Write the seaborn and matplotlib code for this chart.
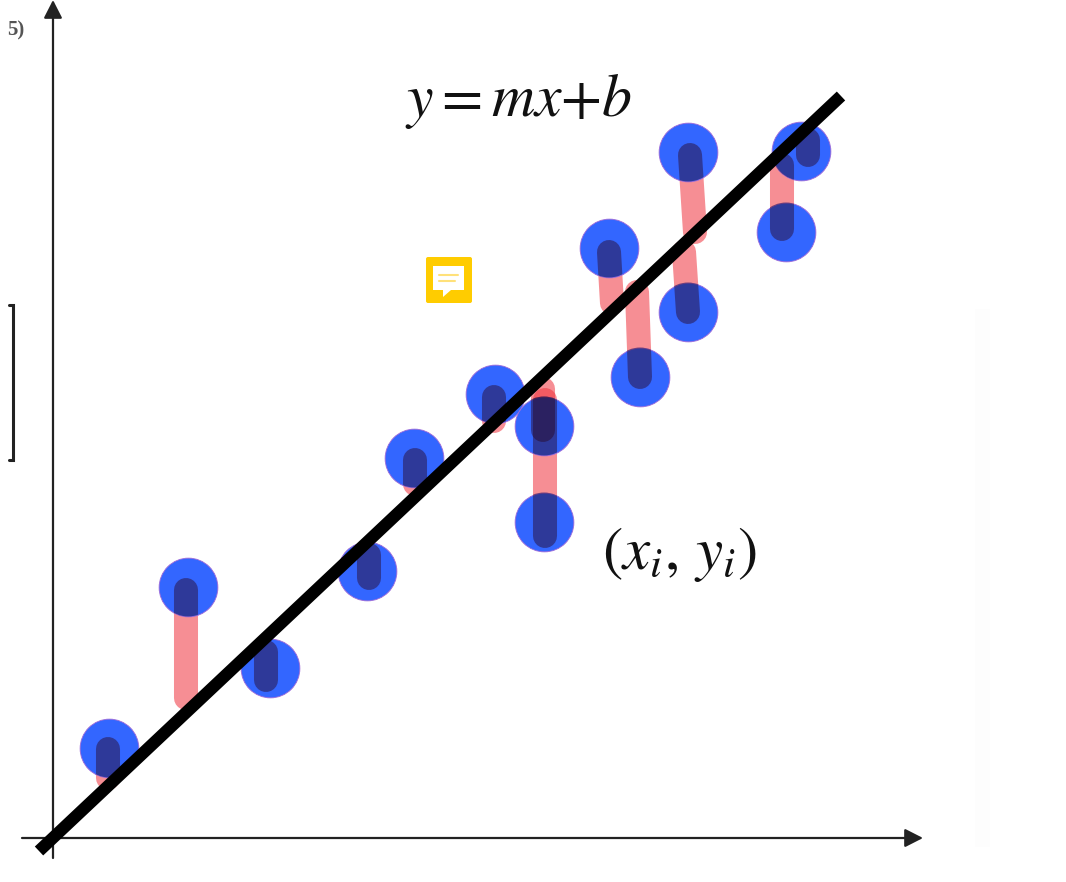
# plot.py -- least squares sketch: points, residuals and fitted line
import matplotlib
matplotlib.use( "Agg" )
import matplotlib.pyplot as plt
import matplotlib.patches as patches
import seaborn as sns

# Values (origin of the arrows = 0,0)
POINT_X = [ 56, 135, 217, 314, 361, 442, 491, 491, 556, 587, 635, 635, 733, 748 ]
POINT_Y = [ 90, 251, 170, 267, 380, 444, 412, 316, 590, 461, 686, 526, 606, 687 ]

# residuals: (x from, y from, x to, y to)
RESIDUALS = [ ( 55, 89, 55, 60 ),
              ( 133, 248, 133, 140 ),
              ( 213, 186, 213, 158 ),
              ( 316, 283, 316, 260 ),
              ( 362, 378, 362, 354 ),
              ( 441, 441, 441, 417 ),
              ( 490, 449, 490, 408 ),
              ( 492, 438, 492, 302 ),
              ( 556, 586, 559, 535 ),
              ( 587, 461, 584, 546 ),
              ( 637, 683, 642, 606 ),
              ( 635, 526, 631, 586 ),
              ( 729, 609, 729, 673 ),
              ( 755, 683, 755, 698 ) ]

LINE_X = [ -14, 788 ]
LINE_Y = [ -13, 742 ]

LINE_LABEL = r"$y{=}mx{+}b$"
POINT_LABEL = r"$(x_i,\, y_i)$"
CROPPED_LABEL = "5)"

BLUE, PINK, NAVY = "#3366ff", "#f0323c", "#28041e"

sns.set_style( "white" )
plt.rcParams[ "mathtext.fontset" ] = "stix"
plt.rcParams[ "font.family" ] = [ "Liberation Serif", "DejaVu Sans" ]

fig = plt.figure( figsize=( 10.66, 8.82 ), dpi=100 )
ax = fig.add_axes( [ 0, 0, 1, 1 ] )
ax.set_xlim( -53, 1013 )
ax.set_ylim( -44, 838 )
ax.axis( "off" )

# faint band left over at the right of the screenshot
ax.axvspan( 922, 937, ymin=0.04, ymax=0.65, color="#fdfdfd", lw=0, zorder=0 )

# arrows of the axes
for start, end in [ ( ( -31, 0 ), ( 870, 0 ) ), ( ( 0, -20 ), ( 0, 838 ) ) ]:
    ax.annotate( "", xy=end, xytext=start,
                 arrowprops=dict( arrowstyle="-|>,head_length=0.55,head_width=0.28", color="#222222",
                                  lw=1.6, shrinkA=0, shrinkB=0, mutation_scale=20 ) )

# pink residuals, under the points
for x0, y0, x1, y1 in RESIDUALS:
    sns.lineplot( x=[ x0, x1 ], y=[ y0, y1 ], color=PINK, alpha=0.55, lw=17.3, estimator=None, sort=False,
                  solid_capstyle="round", ax=ax, zorder=2 )

sns.scatterplot( x=POINT_X, y=POINT_Y, color=BLUE, s=1790, edgecolor="#a06ad8", linewidth=0.6, ax=ax, zorder=3 )

# where a residual crosses a point the two colours multiply
for px, py in zip( POINT_X, POINT_Y ):
    disc = patches.Circle( ( px, py ), 29.5, transform=ax.transData )
    for x0, y0, x1, y1 in RESIDUALS:
        sns.lineplot( x=[ x0, x1 ], y=[ y0, y1 ], color=NAVY, alpha=0.45, lw=17.3, estimator=None, sort=False,
                      solid_capstyle="round", ax=ax, zorder=4 )
        ax.lines[ -1 ].set_clip_path( disc )

sns.lineplot( x=LINE_X, y=LINE_Y, color="black", lw=8.8, estimator=None, sort=False,
              solid_capstyle="butt", ax=ax, zorder=5 )

ax.text( 352, 737, LINE_LABEL, fontsize=43, color="#111111", ha="left", va="center", zorder=6 )
ax.text( 549, 283, POINT_LABEL, fontsize=44, color="#111111", ha="left", va="center", zorder=6 )
ax.text( -29, 808, CROPPED_LABEL, fontsize=15, color="#555555", ha="right", va="center", fontweight="bold" )

# bracket cut off at the left edge
ax.plot( [ -44, -40, -40, -44 ], [ 533, 533, 378, 378 ], color="#222222", lw=2.2, solid_joinstyle="miter" )

# comment icon
ax.add_patch( patches.FancyBboxPatch( ( 375, 537 ), 42, 42, boxstyle="round,pad=2,rounding_size=2",
                                      fc="#ffcc00", ec="none", zorder=6 ) )
ax.add_patch( patches.Polygon( [ ( 380, 572 ), ( 411, 572 ), ( 411, 548 ), ( 398, 548 ), ( 390, 541 ), ( 390, 548 ), ( 380, 548 ) ],
                               fc="white", ec="none", zorder=7 ) )
ax.plot( [ 386, 405 ], [ 563, 563 ], color="#ffe17a", lw=1.5, zorder=8 )
ax.plot( [ 386, 402 ], [ 557, 557 ], color="#ffe17a", lw=1.5, zorder=8 )

fig.savefig( "out.png", dpi=100, facecolor="white" )
